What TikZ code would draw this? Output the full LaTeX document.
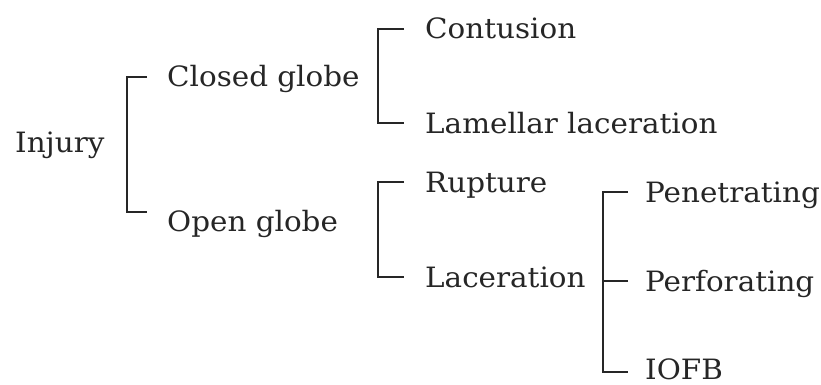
\documentclass[tikz,border=0pt]{standalone}
\usepackage{fontspec}
\setmainfont[FakeStretch=1.05]{DejaVu Serif}
\begin{document}
\begin{tikzpicture}[x=1pt,y=-1pt,
  term/.style={anchor=west, inner sep=0pt, text height=20pt, text depth=0pt,
    font=\fontsize{28}{33}\selectfont, text=black!85},
  brace/.style={line width=1.7pt, black!85}]
\useasboundingbox (0,0) rectangle (821,385);
% labels
\node[term] (injury)  at (15,142) {Injury};
\node[term] (closed)  at (167,77) {Closed globe};
\node[term] (open)    at (167,221) {Open globe};
\node[term] (contus)  at (425,29) {Contusion};
\node[term] (lamell)  at (425,123) {Lamellar laceration};
\node[term] (rupt)    at (425,182) {Rupture};
\node[term] (lacer)   at (425,277) {Laceration};
\node[term] (penet)   at (645,192) {Penetrating};
\node[term] (perfor)  at (645,281) {Perforating};
\node[term] (iofb)    at (645,369) {IOFB};
% brackets
\draw[brace] ([xshift=-20pt]closed.west) -- ++(-20,0) |- ([xshift=-20pt,yshift=9pt]open.west);
\draw[brace] ([xshift=-21pt]contus.west) -- ++(-26,0) |- ([xshift=-21pt]lamell.west);
\draw[brace] ([xshift=-21pt]rupt.west) -- ++(-26,0) |- ([xshift=-21pt]lacer.west);
\draw[brace] ([xshift=-17pt]penet.west) -- ++(-25,0) |- ([xshift=-17pt,yshift=-3pt]iofb.west);
\draw[brace] ([xshift=-17pt]perfor.west) -- ++(-25,0);
\end{tikzpicture}
\end{document}
